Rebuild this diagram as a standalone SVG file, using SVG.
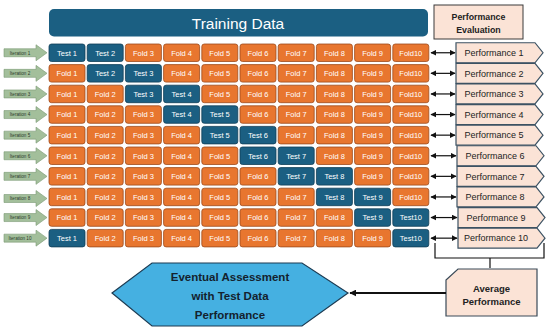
<svg xmlns="http://www.w3.org/2000/svg" width="550" height="331" viewBox="0 0 550 331">
<style>
text{font-family:"Liberation Sans",Arial,sans-serif}
.f rect{fill:#e8762f;stroke:#9c4a1c;stroke-width:0.8}
.s rect{fill:#1b5f82;stroke:#103d55;stroke-width:0.8}
.f text,.s text{fill:#fff;font-size:7.5px;text-anchor:middle}
.it path{fill:#a3bf9b;stroke:#7b9874;stroke-width:0.6}
.it text{fill:#2a3a2a;font-size:4.6px;text-anchor:middle}
.pf path{fill:#fbe3d6;stroke:#3c5263;stroke-width:1.2}
.pf text{fill:#222;font-size:9px;text-anchor:middle}
.c line{stroke:#111;stroke-width:1.2}
</style>
<defs>
<marker id="ah" viewBox="0 0 10 10" refX="9" refY="5" markerWidth="5" markerHeight="5" orient="auto-start-reverse"><path d="M0,0L10,5L0,10Z" fill="#111"/></marker>
<marker id="ah2" viewBox="0 0 10 10" refX="9" refY="5" markerWidth="3.5" markerHeight="3.5" orient="auto"><path d="M0,0L10,5L0,10Z" fill="#111"/></marker>
</defs>
<rect width="550" height="331" fill="#fff"/>
<g id="training">
<rect x="49" y="9" width="379" height="27.5" rx="5" fill="#1b5f82"/>
<text x="238" y="28.5" font-size="15.5" fill="#fff" text-anchor="middle">Training Data</text>
</g>
<g id="perfeval">
<rect x="434" y="5" width="89" height="34" fill="#fbe3d6" stroke="#3a3a3a" stroke-width="1"/>
<text x="478.5" y="20" font-size="8.8" font-weight="bold" fill="#222" text-anchor="middle">Performance</text>
<text x="478.5" y="33" font-size="8.8" font-weight="bold" fill="#222" text-anchor="middle">Evaluation</text>
</g>
<g id="iterations" class="it">
<g id="it1"><path d="M4,48.75H36V44.75L47,52.75L36,60.75V56.75H4Z"/><text x="20" y="54.5">Iteration 1</text></g>
<g id="it2"><path d="M4,69.35H36V65.35L47,73.35L36,81.35V77.35H4Z"/><text x="20" y="75.1">Iteration 2</text></g>
<g id="it3"><path d="M4,89.95H36V85.95L47,93.95L36,101.95V97.95H4Z"/><text x="20" y="95.7">Iteration 3</text></g>
<g id="it4"><path d="M4,110.55H36V106.55L47,114.55L36,122.55V118.55H4Z"/><text x="20" y="116.3">Iteration 4</text></g>
<g id="it5"><path d="M4,131.15H36V127.15L47,135.15L36,143.15V139.15H4Z"/><text x="20" y="136.9">Iteration 5</text></g>
<g id="it6"><path d="M4,151.75H36V147.75L47,155.75L36,163.75V159.75H4Z"/><text x="20" y="157.5">Iteration 6</text></g>
<g id="it7"><path d="M4,172.35H36V168.35L47,176.35L36,184.35V180.35H4Z"/><text x="20" y="178.1">Iteration 7</text></g>
<g id="it8"><path d="M4,194.5H36V190.5L47,198.5L36,206.5V202.5H4Z"/><text x="20" y="200.25">Iteration 8</text></g>
<g id="it9"><path d="M4,213.55H36V209.55L47,217.55L36,225.55V221.55H4Z"/><text x="20" y="219.3">Iteration 9</text></g>
<g id="it10"><path d="M4,234.15H36V230.15L47,238.15L36,246.15V242.15H4Z"/><text x="20" y="239.9">Iteration 10</text></g>
</g>
<g id="grid">
<g id="r1c1" class="s"><rect x="49" y="44" width="36" height="17.5" rx="2.5"/><text x="67" y="55.5">Test 1</text></g>
<g id="r1c2" class="s"><rect x="87.2" y="44" width="36" height="17.5" rx="2.5"/><text x="105.2" y="55.5">Test 2</text></g>
<g id="r1c3" class="f"><rect x="125.4" y="44" width="36" height="17.5" rx="2.5"/><text x="143.4" y="55.5">Fold 3</text></g>
<g id="r1c4" class="f"><rect x="163.6" y="44" width="36" height="17.5" rx="2.5"/><text x="181.6" y="55.5">Fold 4</text></g>
<g id="r1c5" class="f"><rect x="201.8" y="44" width="36" height="17.5" rx="2.5"/><text x="219.8" y="55.5">Fold 5</text></g>
<g id="r1c6" class="f"><rect x="240" y="44" width="36" height="17.5" rx="2.5"/><text x="258" y="55.5">Fold 6</text></g>
<g id="r1c7" class="f"><rect x="278.2" y="44" width="36" height="17.5" rx="2.5"/><text x="296.2" y="55.5">Fold 7</text></g>
<g id="r1c8" class="f"><rect x="316.4" y="44" width="36" height="17.5" rx="2.5"/><text x="334.4" y="55.5">Fold 8</text></g>
<g id="r1c9" class="f"><rect x="354.6" y="44" width="36" height="17.5" rx="2.5"/><text x="372.6" y="55.5">Fold 9</text></g>
<g id="r1c10" class="f"><rect x="392.8" y="44" width="36" height="17.5" rx="2.5"/><text x="410.8" y="55.5">Fold10</text></g>
<g id="r2c1" class="f"><rect x="49" y="64.6" width="36" height="17.5" rx="2.5"/><text x="67" y="76.1">Fold 1</text></g>
<g id="r2c2" class="s"><rect x="87.2" y="64.6" width="36" height="17.5" rx="2.5"/><text x="105.2" y="76.1">Test 2</text></g>
<g id="r2c3" class="s"><rect x="125.4" y="64.6" width="36" height="17.5" rx="2.5"/><text x="143.4" y="76.1">Test 3</text></g>
<g id="r2c4" class="f"><rect x="163.6" y="64.6" width="36" height="17.5" rx="2.5"/><text x="181.6" y="76.1">Fold 4</text></g>
<g id="r2c5" class="f"><rect x="201.8" y="64.6" width="36" height="17.5" rx="2.5"/><text x="219.8" y="76.1">Fold 5</text></g>
<g id="r2c6" class="f"><rect x="240" y="64.6" width="36" height="17.5" rx="2.5"/><text x="258" y="76.1">Fold 6</text></g>
<g id="r2c7" class="f"><rect x="278.2" y="64.6" width="36" height="17.5" rx="2.5"/><text x="296.2" y="76.1">Fold 7</text></g>
<g id="r2c8" class="f"><rect x="316.4" y="64.6" width="36" height="17.5" rx="2.5"/><text x="334.4" y="76.1">Fold 8</text></g>
<g id="r2c9" class="f"><rect x="354.6" y="64.6" width="36" height="17.5" rx="2.5"/><text x="372.6" y="76.1">Fold 9</text></g>
<g id="r2c10" class="f"><rect x="392.8" y="64.6" width="36" height="17.5" rx="2.5"/><text x="410.8" y="76.1">Fold10</text></g>
<g id="r3c1" class="f"><rect x="49" y="85.2" width="36" height="17.5" rx="2.5"/><text x="67" y="96.7">Fold 1</text></g>
<g id="r3c2" class="f"><rect x="87.2" y="85.2" width="36" height="17.5" rx="2.5"/><text x="105.2" y="96.7">Fold 2</text></g>
<g id="r3c3" class="s"><rect x="125.4" y="85.2" width="36" height="17.5" rx="2.5"/><text x="143.4" y="96.7">Test 3</text></g>
<g id="r3c4" class="s"><rect x="163.6" y="85.2" width="36" height="17.5" rx="2.5"/><text x="181.6" y="96.7">Test 4</text></g>
<g id="r3c5" class="f"><rect x="201.8" y="85.2" width="36" height="17.5" rx="2.5"/><text x="219.8" y="96.7">Fold 5</text></g>
<g id="r3c6" class="f"><rect x="240" y="85.2" width="36" height="17.5" rx="2.5"/><text x="258" y="96.7">Fold 6</text></g>
<g id="r3c7" class="f"><rect x="278.2" y="85.2" width="36" height="17.5" rx="2.5"/><text x="296.2" y="96.7">Fold 7</text></g>
<g id="r3c8" class="f"><rect x="316.4" y="85.2" width="36" height="17.5" rx="2.5"/><text x="334.4" y="96.7">Fold 8</text></g>
<g id="r3c9" class="f"><rect x="354.6" y="85.2" width="36" height="17.5" rx="2.5"/><text x="372.6" y="96.7">Fold 9</text></g>
<g id="r3c10" class="f"><rect x="392.8" y="85.2" width="36" height="17.5" rx="2.5"/><text x="410.8" y="96.7">Fold10</text></g>
<g id="r4c1" class="f"><rect x="49" y="105.8" width="36" height="17.5" rx="2.5"/><text x="67" y="117.3">Fold 1</text></g>
<g id="r4c2" class="f"><rect x="87.2" y="105.8" width="36" height="17.5" rx="2.5"/><text x="105.2" y="117.3">Fold 2</text></g>
<g id="r4c3" class="f"><rect x="125.4" y="105.8" width="36" height="17.5" rx="2.5"/><text x="143.4" y="117.3">Fold 3</text></g>
<g id="r4c4" class="s"><rect x="163.6" y="105.8" width="36" height="17.5" rx="2.5"/><text x="181.6" y="117.3">Test 4</text></g>
<g id="r4c5" class="s"><rect x="201.8" y="105.8" width="36" height="17.5" rx="2.5"/><text x="219.8" y="117.3">Test 5</text></g>
<g id="r4c6" class="f"><rect x="240" y="105.8" width="36" height="17.5" rx="2.5"/><text x="258" y="117.3">Fold 6</text></g>
<g id="r4c7" class="f"><rect x="278.2" y="105.8" width="36" height="17.5" rx="2.5"/><text x="296.2" y="117.3">Fold 7</text></g>
<g id="r4c8" class="f"><rect x="316.4" y="105.8" width="36" height="17.5" rx="2.5"/><text x="334.4" y="117.3">Fold 8</text></g>
<g id="r4c9" class="f"><rect x="354.6" y="105.8" width="36" height="17.5" rx="2.5"/><text x="372.6" y="117.3">Fold 9</text></g>
<g id="r4c10" class="f"><rect x="392.8" y="105.8" width="36" height="17.5" rx="2.5"/><text x="410.8" y="117.3">Fold10</text></g>
<g id="r5c1" class="f"><rect x="49" y="126.4" width="36" height="17.5" rx="2.5"/><text x="67" y="137.9">Fold 1</text></g>
<g id="r5c2" class="f"><rect x="87.2" y="126.4" width="36" height="17.5" rx="2.5"/><text x="105.2" y="137.9">Fold 2</text></g>
<g id="r5c3" class="f"><rect x="125.4" y="126.4" width="36" height="17.5" rx="2.5"/><text x="143.4" y="137.9">Fold 3</text></g>
<g id="r5c4" class="f"><rect x="163.6" y="126.4" width="36" height="17.5" rx="2.5"/><text x="181.6" y="137.9">Fold 4</text></g>
<g id="r5c5" class="s"><rect x="201.8" y="126.4" width="36" height="17.5" rx="2.5"/><text x="219.8" y="137.9">Test 5</text></g>
<g id="r5c6" class="s"><rect x="240" y="126.4" width="36" height="17.5" rx="2.5"/><text x="258" y="137.9">Test 6</text></g>
<g id="r5c7" class="f"><rect x="278.2" y="126.4" width="36" height="17.5" rx="2.5"/><text x="296.2" y="137.9">Fold 7</text></g>
<g id="r5c8" class="f"><rect x="316.4" y="126.4" width="36" height="17.5" rx="2.5"/><text x="334.4" y="137.9">Fold 8</text></g>
<g id="r5c9" class="f"><rect x="354.6" y="126.4" width="36" height="17.5" rx="2.5"/><text x="372.6" y="137.9">Fold 9</text></g>
<g id="r5c10" class="f"><rect x="392.8" y="126.4" width="36" height="17.5" rx="2.5"/><text x="410.8" y="137.9">Fold10</text></g>
<g id="r6c1" class="f"><rect x="49" y="147" width="36" height="17.5" rx="2.5"/><text x="67" y="158.5">Fold 1</text></g>
<g id="r6c2" class="f"><rect x="87.2" y="147" width="36" height="17.5" rx="2.5"/><text x="105.2" y="158.5">Fold 2</text></g>
<g id="r6c3" class="f"><rect x="125.4" y="147" width="36" height="17.5" rx="2.5"/><text x="143.4" y="158.5">Fold 3</text></g>
<g id="r6c4" class="f"><rect x="163.6" y="147" width="36" height="17.5" rx="2.5"/><text x="181.6" y="158.5">Fold 4</text></g>
<g id="r6c5" class="f"><rect x="201.8" y="147" width="36" height="17.5" rx="2.5"/><text x="219.8" y="158.5">Fold 5</text></g>
<g id="r6c6" class="s"><rect x="240" y="147" width="36" height="17.5" rx="2.5"/><text x="258" y="158.5">Test 6</text></g>
<g id="r6c7" class="s"><rect x="278.2" y="147" width="36" height="17.5" rx="2.5"/><text x="296.2" y="158.5">Test 7</text></g>
<g id="r6c8" class="f"><rect x="316.4" y="147" width="36" height="17.5" rx="2.5"/><text x="334.4" y="158.5">Fold 8</text></g>
<g id="r6c9" class="f"><rect x="354.6" y="147" width="36" height="17.5" rx="2.5"/><text x="372.6" y="158.5">Fold 9</text></g>
<g id="r6c10" class="f"><rect x="392.8" y="147" width="36" height="17.5" rx="2.5"/><text x="410.8" y="158.5">Fold10</text></g>
<g id="r7c1" class="f"><rect x="49" y="167.6" width="36" height="17.5" rx="2.5"/><text x="67" y="179.1">Fold 1</text></g>
<g id="r7c2" class="f"><rect x="87.2" y="167.6" width="36" height="17.5" rx="2.5"/><text x="105.2" y="179.1">Fold 2</text></g>
<g id="r7c3" class="f"><rect x="125.4" y="167.6" width="36" height="17.5" rx="2.5"/><text x="143.4" y="179.1">Fold 3</text></g>
<g id="r7c4" class="f"><rect x="163.6" y="167.6" width="36" height="17.5" rx="2.5"/><text x="181.6" y="179.1">Fold 4</text></g>
<g id="r7c5" class="f"><rect x="201.8" y="167.6" width="36" height="17.5" rx="2.5"/><text x="219.8" y="179.1">Fold 5</text></g>
<g id="r7c6" class="f"><rect x="240" y="167.6" width="36" height="17.5" rx="2.5"/><text x="258" y="179.1">Fold 6</text></g>
<g id="r7c7" class="s"><rect x="278.2" y="167.6" width="36" height="17.5" rx="2.5"/><text x="296.2" y="179.1">Test 7</text></g>
<g id="r7c8" class="s"><rect x="316.4" y="167.6" width="36" height="17.5" rx="2.5"/><text x="334.4" y="179.1">Test 8</text></g>
<g id="r7c9" class="f"><rect x="354.6" y="167.6" width="36" height="17.5" rx="2.5"/><text x="372.6" y="179.1">Fold 9</text></g>
<g id="r7c10" class="f"><rect x="392.8" y="167.6" width="36" height="17.5" rx="2.5"/><text x="410.8" y="179.1">Fold10</text></g>
<g id="r8c1" class="f"><rect x="49" y="188.2" width="36" height="17.5" rx="2.5"/><text x="67" y="199.7">Fold 1</text></g>
<g id="r8c2" class="f"><rect x="87.2" y="188.2" width="36" height="17.5" rx="2.5"/><text x="105.2" y="199.7">Fold 2</text></g>
<g id="r8c3" class="f"><rect x="125.4" y="188.2" width="36" height="17.5" rx="2.5"/><text x="143.4" y="199.7">Fold 3</text></g>
<g id="r8c4" class="f"><rect x="163.6" y="188.2" width="36" height="17.5" rx="2.5"/><text x="181.6" y="199.7">Fold 4</text></g>
<g id="r8c5" class="f"><rect x="201.8" y="188.2" width="36" height="17.5" rx="2.5"/><text x="219.8" y="199.7">Fold 5</text></g>
<g id="r8c6" class="f"><rect x="240" y="188.2" width="36" height="17.5" rx="2.5"/><text x="258" y="199.7">Fold 6</text></g>
<g id="r8c7" class="f"><rect x="278.2" y="188.2" width="36" height="17.5" rx="2.5"/><text x="296.2" y="199.7">Fold 7</text></g>
<g id="r8c8" class="s"><rect x="316.4" y="188.2" width="36" height="17.5" rx="2.5"/><text x="334.4" y="199.7">Test 8</text></g>
<g id="r8c9" class="s"><rect x="354.6" y="188.2" width="36" height="17.5" rx="2.5"/><text x="372.6" y="199.7">Test 9</text></g>
<g id="r8c10" class="f"><rect x="392.8" y="188.2" width="36" height="17.5" rx="2.5"/><text x="410.8" y="199.7">Fold10</text></g>
<g id="r9c1" class="f"><rect x="49" y="208.8" width="36" height="17.5" rx="2.5"/><text x="67" y="220.3">Fold 1</text></g>
<g id="r9c2" class="f"><rect x="87.2" y="208.8" width="36" height="17.5" rx="2.5"/><text x="105.2" y="220.3">Fold 2</text></g>
<g id="r9c3" class="f"><rect x="125.4" y="208.8" width="36" height="17.5" rx="2.5"/><text x="143.4" y="220.3">Fold 3</text></g>
<g id="r9c4" class="f"><rect x="163.6" y="208.8" width="36" height="17.5" rx="2.5"/><text x="181.6" y="220.3">Fold 4</text></g>
<g id="r9c5" class="f"><rect x="201.8" y="208.8" width="36" height="17.5" rx="2.5"/><text x="219.8" y="220.3">Fold 5</text></g>
<g id="r9c6" class="f"><rect x="240" y="208.8" width="36" height="17.5" rx="2.5"/><text x="258" y="220.3">Fold 6</text></g>
<g id="r9c7" class="f"><rect x="278.2" y="208.8" width="36" height="17.5" rx="2.5"/><text x="296.2" y="220.3">Fold 7</text></g>
<g id="r9c8" class="f"><rect x="316.4" y="208.8" width="36" height="17.5" rx="2.5"/><text x="334.4" y="220.3">Fold 8</text></g>
<g id="r9c9" class="s"><rect x="354.6" y="208.8" width="36" height="17.5" rx="2.5"/><text x="372.6" y="220.3">Test 9</text></g>
<g id="r9c10" class="s"><rect x="392.8" y="208.8" width="36" height="17.5" rx="2.5"/><text x="410.8" y="220.3">Test10</text></g>
<g id="r10c1" class="s"><rect x="49" y="229.4" width="36" height="17.5" rx="2.5"/><text x="67" y="240.9">Test 1</text></g>
<g id="r10c2" class="f"><rect x="87.2" y="229.4" width="36" height="17.5" rx="2.5"/><text x="105.2" y="240.9">Fold 2</text></g>
<g id="r10c3" class="f"><rect x="125.4" y="229.4" width="36" height="17.5" rx="2.5"/><text x="143.4" y="240.9">Fold 3</text></g>
<g id="r10c4" class="f"><rect x="163.6" y="229.4" width="36" height="17.5" rx="2.5"/><text x="181.6" y="240.9">Fold 4</text></g>
<g id="r10c5" class="f"><rect x="201.8" y="229.4" width="36" height="17.5" rx="2.5"/><text x="219.8" y="240.9">Fold 5</text></g>
<g id="r10c6" class="f"><rect x="240" y="229.4" width="36" height="17.5" rx="2.5"/><text x="258" y="240.9">Fold 6</text></g>
<g id="r10c7" class="f"><rect x="278.2" y="229.4" width="36" height="17.5" rx="2.5"/><text x="296.2" y="240.9">Fold 7</text></g>
<g id="r10c8" class="f"><rect x="316.4" y="229.4" width="36" height="17.5" rx="2.5"/><text x="334.4" y="240.9">Fold 8</text></g>
<g id="r10c9" class="f"><rect x="354.6" y="229.4" width="36" height="17.5" rx="2.5"/><text x="372.6" y="240.9">Fold 9</text></g>
<g id="r10c10" class="s"><rect x="392.8" y="229.4" width="36" height="17.5" rx="2.5"/><text x="410.8" y="240.9">Test10</text></g>
</g>
<g id="performances" class="pf">
<g id="p1"><path d="M456,42.75H535L543,52.75L535,62.75H456Z"/><text x="494" y="56">Performance 1</text></g>
<g id="p2"><path d="M456,63.35H535L543,73.35L535,83.35H456Z"/><text x="494" y="76.6">Performance 2</text></g>
<g id="p3"><path d="M456,83.95H535L543,93.95L535,103.95H456Z"/><text x="494" y="97.2">Performance 3</text></g>
<g id="p4"><path d="M456,104.55H535L543,114.55L535,124.55H456Z"/><text x="494" y="117.8">Performance 4</text></g>
<g id="p5"><path d="M456,125.15H535L543,135.15L535,145.15H456Z"/><text x="494" y="138.4">Performance 5</text></g>
<g id="p6"><path d="M457,145.75H536L544,155.75L536,165.75H457Z"/><text x="495" y="159">Performance 6</text></g>
<g id="p7"><path d="M457,166.35H536L544,176.35L536,186.35H457Z"/><text x="495" y="179.6">Performance 7</text></g>
<g id="p8"><path d="M457,186.95H536L544,196.95L536,206.95H457Z"/><text x="495" y="200.2">Performance 8</text></g>
<g id="p9"><path d="M458,207.55H537L545,217.55L537,227.55H458Z"/><text x="496" y="220.8">Performance 9</text></g>
<g id="p10"><path d="M458,228.15H537L545,238.15L537,248.15H458Z"/><text x="496" y="241.4">Performance 10</text></g>
</g>
<g id="average">
<path d="M446,280L458,269H537V316H446Z" fill="#fbe3d6" stroke="#3a4a58" stroke-width="1.2"/>
<text x="491.5" y="292" font-size="9.5" font-weight="bold" fill="#222" text-anchor="middle">Average</text>
<text x="491.5" y="305" font-size="9.5" font-weight="bold" fill="#222" text-anchor="middle">Performance</text>
</g>
<g id="assessment">
<path d="M112,293L152,263H302L348,293L302,326H152Z" fill="#45b0e1" stroke="#1d3b52" stroke-width="1.2"/>
<text x="230" y="281" font-size="11.5" fill="#14222e" text-anchor="middle" font-weight="bold">Eventual Assessment</text>
<text x="230" y="300" font-size="11.5" fill="#14222e" text-anchor="middle" font-weight="bold">with Test Data</text>
<text x="230" y="319" font-size="11.5" fill="#14222e" text-anchor="middle" font-weight="bold">Performance</text>
</g>
<g id="connectors" class="c">
<line x1="431" y1="52.75" x2="455" y2="52.75" marker-start="url(#ah)" marker-end="url(#ah)"/>
<line x1="431" y1="73.35" x2="455" y2="73.35" marker-start="url(#ah)" marker-end="url(#ah)"/>
<line x1="431" y1="93.95" x2="455" y2="93.95" marker-start="url(#ah)" marker-end="url(#ah)"/>
<line x1="431" y1="114.55" x2="455" y2="114.55" marker-start="url(#ah)" marker-end="url(#ah)"/>
<line x1="431" y1="135.15" x2="455" y2="135.15" marker-start="url(#ah)" marker-end="url(#ah)"/>
<line x1="431" y1="155.75" x2="456" y2="155.75" marker-start="url(#ah)" marker-end="url(#ah)"/>
<line x1="431" y1="176.35" x2="456" y2="176.35" marker-start="url(#ah)" marker-end="url(#ah)"/>
<line x1="431" y1="196.95" x2="456" y2="196.95" marker-start="url(#ah)" marker-end="url(#ah)"/>
<line x1="431" y1="217.55" x2="457" y2="217.55" marker-start="url(#ah)" marker-end="url(#ah)"/>
<line x1="431" y1="238.15" x2="457" y2="238.15" marker-start="url(#ah)" marker-end="url(#ah)"/>
<path d="M435,243V258H544V243M490,258V268" fill="none" stroke="#111" stroke-width="1.2"/>
<line x1="446" y1="293" x2="350" y2="293" style="stroke-width:2" marker-end="url(#ah2)"/>
</g>
</svg>
